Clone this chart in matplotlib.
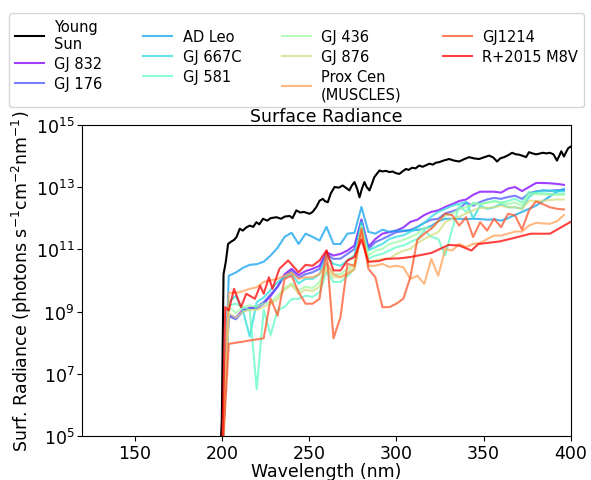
import numpy as np
import matplotlib
matplotlib.use("Agg")
import matplotlib.pyplot as plt
from matplotlib.ticker import NullLocator

# Young Sun spectrum (wavelength nm, log10 radiance)
sun_wl = [198, 200, 201, 202.3, 203.6, 205.5, 207, 208.4, 210.3, 212, 214, 216, 218, 219.8,
          221.5, 223.6, 226, 228, 231.3, 234, 236, 238.9, 240.5, 242.7, 245, 247, 250.3, 252,
          254.1, 256, 257.9, 259, 260.7, 262.5, 264.6, 267, 269.3, 271, 273.1, 274.5, 276,
          277.5, 278.9, 280.3, 281.7, 283, 284.6, 286, 287.4, 290.3, 292, 294, 296, 297.9,
          299.5, 301.7, 303.5, 305.5, 307, 309, 311, 313.1, 315, 317, 319, 321, 322.5, 324.6,
          327, 330.3, 333, 336, 339, 341.7, 344.5, 347.4, 350, 353.1, 355.5, 357.7, 359.5,
          361.7, 364, 366.3, 368.5, 370.3, 372.5, 374.3, 376, 378, 380, 381.7, 384, 386, 388,
          390, 391, 392, 393.3, 394.5, 396, 397.5, 398.5, 400]
sun_log = [3.0, 5.5, 10.2, 10.6, 11.17, 11.25, 11.3, 11.39, 11.66, 11.6, 11.7, 11.76, 11.72, 11.87,
           11.8, 11.98, 11.92, 12.0, 12.03, 11.98, 12.05, 12.07, 12.0, 12.25, 12.18, 12.2, 12.14, 12.2,
           12.35, 12.56, 12.62, 12.55, 12.51, 12.8, 13.0, 12.98, 13.05, 12.98, 12.89, 13.05, 13.16,
           12.95, 12.67, 12.95, 13.16, 13.0, 12.89, 13.1, 13.32, 13.53, 13.5, 13.52, 13.48, 13.5,
           13.45, 13.42, 13.5, 13.58, 13.55, 13.62, 13.6, 13.69, 13.65, 13.7, 13.75, 13.72, 13.78, 13.8,
           13.85, 13.9, 13.85, 13.82, 13.9, 13.96, 13.92, 13.9, 13.95, 14.01, 13.95, 13.82, 13.92,
           13.96, 14.02, 14.1, 14.05, 14.04, 14.0, 13.96, 14.12, 14.08, 14.05, 14.07, 14.1, 14.08, 14.1,
           14.05, 13.95, 13.85, 14.0, 14.15, 13.98, 14.15, 14.25, 14.3]

# MUSCLES stars, common grid
star_wl = [200, 204, 208, 212, 216, 220, 224, 228, 232, 236, 240, 244, 248, 252, 256, 260, 264,
           268, 272, 276, 280, 284, 288, 292, 296, 300, 304, 308, 312, 316, 320, 324, 328, 332,
           336, 340, 344, 348, 352, 356, 360, 364, 368, 372, 376, 380, 384, 388, 392, 396]
gj832 = [4.0, 8.9, 8.8, 9.05, 9.12, 9.1, 9.25, 9.5, 9.8, 10.2, 10.37, 10.17, 10.3, 10.37, 10.47,
         10.9, 10.8, 10.85, 10.96, 11.12, 11.96, 11.08, 11.33, 11.5, 11.55, 11.6, 11.7, 11.88, 11.95,
         12.1, 12.2, 12.25, 12.36, 12.45, 12.55, 12.6, 12.75, 12.85, 12.85, 12.85, 12.82, 12.95, 13.0,
         12.87, 13.0, 13.13, 13.13, 13.12, 13.1, 13.07]
gj176 = [4.0, 8.85, 8.75, 9.0, 9.1, 9.15, 9.3, 9.55, 9.8, 10.15, 10.3, 10.08, 10.2, 10.26, 10.37,
         10.85, 10.69, 10.7, 10.85, 11.01, 11.92, 11.01, 11.23, 11.33, 11.44, 11.55, 11.58, 11.62, 11.72,
         11.85, 11.95, 11.98, 12.15, 12.22, 12.3, 12.5, 12.4, 12.52, 12.6, 12.65, 12.62, 12.68, 12.72,
         12.62, 12.8, 12.86, 12.89, 12.88, 12.9, 12.9]
adleo = [4.0, 10.15, 10.25, 10.4, 10.5, 10.52, 10.6, 10.8, 11.05, 11.4, 11.53, 11.17, 11.5, 11.4, 11.28,
         11.72, 11.17, 11.17, 11.5, 11.53, 12.36, 11.56, 11.5, 11.63, 11.56, 11.6, 11.6, 11.6, 11.62,
         11.66, 11.75, 11.9, 11.98, 11.98, 11.98, 11.97, 11.98, 11.97, 11.95, 11.96, 11.92, 12.0, 12.1,
         12.2, 12.3, 12.4, 12.55, 12.7, 12.85, 12.94]
gj667c = [4.0, 9.3, 9.5, 9.05, 8.2, 9.3, 9.45, 9.7, 9.95, 10.1, 10.2, 9.9, 10.05, 10.05, 10.2, 10.8,
          10.53, 10.47, 10.64, 10.8, 11.88, 10.96, 11.07, 11.17, 11.33, 11.4, 11.45, 11.56, 11.7, 11.85,
          12.05, 12.2, 12.3, 12.4, 12.46, 12.52, 12.0, 12.4, 12.3, 12.35, 12.46, 12.35, 12.35, 12.3,
          12.68, 12.85, 12.89, 12.88, 12.87, 12.86]
gj581 = [4.0, 9.2, 9.25, 9.15, 9.05, 6.5, 9.05, 8.25, 9.05, 9.15, 9.4, 9.41, 9.51, 9.47, 9.62, 10.27,
         9.95, 9.95, 10.14, 10.37, 11.66, 10.69, 10.8, 10.85, 10.96, 11.07, 11.12, 11.23, 11.33, 11.6,
         11.4, 11.33, 10.8, 11.66, 12.4, 12.2, 12.5, 12.45, 12.5, 12.55, 12.5, 12.55, 12.62, 12.5,
         12.84, 12.8, 12.8, 12.78, 12.78, 12.78]
gj436 = [4.0, 9.15, 8.95, 9.15, 9.2, 9.15, 9.25, 9.3, 9.5, 9.75, 9.9, 9.67, 9.8, 9.75, 9.94, 10.53,
         10.2, 10.2, 10.37, 10.53, 11.76, 10.8, 10.96, 11.01, 11.17, 11.23, 11.3, 11.39, 11.5, 11.7,
         11.66, 11.9, 12.08, 12.14, 12.3, 12.35, 12.46, 12.45, 12.5, 12.53, 12.5, 12.45, 12.5, 12.4,
         12.78, 12.77, 12.76, 12.75, 12.75, 12.75]
gj876 = [4.0, 8.95, 8.8, 9.0, 9.05, 9.05, 9.15, 9.25, 9.4, 9.7, 9.85, 9.57, 9.7, 9.65, 9.8, 10.37,
         10.1, 10.1, 10.25, 10.43, 11.66, 10.58, 10.64, 10.69, 10.69, 10.85, 10.95, 11.01, 11.2, 11.33,
         11.45, 11.55, 11.87, 11.98, 12.05, 12.15, 12.25, 12.33, 12.33, 12.35, 12.4, 12.35, 12.35, 12.3,
         12.56, 12.55, 12.56, 12.58, 12.6, 12.6]
proxcen = [4.0, 9.6, 9.6, 9.65, 9.73, 9.78, 9.95, 10.0, 10.05, 10.15, 10.25, 10.05, 10.1, 10.1, 10.2,
           10.55, 10.2, 10.1, 10.2, 10.35, 11.55, 10.47, 10.47, 10.53, 10.43, 10.47, 10.42, 10.05, 10.15,
           9.89, 10.69, 10.15, 11.01, 10.96, 11.17, 11.07, 11.17, 11.2, 11.33, 11.44, 11.44, 11.5, 11.57,
           11.57, 11.76, 11.85, 11.83, 11.82, 11.9, 12.1]

gj1214_wl = [200, 204, 224, 228, 232, 236, 240, 244, 248, 252, 256, 260, 264, 268, 272, 276, 280,
             284, 288, 292, 296, 300, 304, 308, 312, 316, 320, 324, 328, 332, 336, 340, 344, 348,
             352, 356, 360, 364, 368, 372, 376, 380, 384, 388, 392, 396]
gj1214 = [4.0, 7.96, 8.14, 9.41, 8.87, 10.05, 10.15, 9.62, 9.25, 9.25, 9.41, 10.96, 8.14, 8.82, 10.53,
          10.47, 11.66, 10.37, 10.1, 9.14, 9.14, 9.25, 9.41, 10.1, 11.3, 11.5, 11.66, 11.9, 12.14, 12.1,
          11.76, 12.03, 11.39, 11.87, 11.6, 11.98, 11.71, 12.14, 12.09, 11.63, 12.25, 12.54, 12.45,
          12.35, 12.3, 12.28]

r15_wl = [200, 202, 204, 207, 211, 214, 219, 222, 224, 227, 229, 233, 238, 244, 248, 252, 256, 260,
          264, 268, 272, 276, 280, 284, 290, 294, 302, 308, 320, 330, 336, 343, 347, 359, 365, 377,
          388, 402]
r15 = [4.0, 9.14, 9.03, 9.73, 9.14, 9.57, 9.41, 9.83, 9.57, 10.1, 9.73, 10.37, 10.64, 10.26, 10.5,
       10.47, 10.64, 10.96, 10.32, 10.32, 10.64, 10.75, 11.31, 10.6, 10.62, 10.69, 10.71, 10.75, 10.88,
       11.14, 11.12, 10.96, 11.17, 11.25, 11.33, 11.5, 11.5, 11.95]

star_names = ['GJ 832', 'GJ 176', 'AD Leo', 'GJ 667C', 'GJ 581', 'GJ 436', 'GJ 876',
              'Prox Cen\n(MUSCLES)', 'GJ1214', 'R+2015 M8V']
star_wls = [star_wl] * 8 + [gj1214_wl, r15_wl]
star_logs = [gj832, gj176, adleo, gj667c, gj581, gj436, gj876, proxcen, gj1214, r15]

fig = plt.figure(figsize=(5.91, 4.81), dpi=100)
ax = fig.add_axes([0.139, 0.0915, 0.827, 0.647])

colors = plt.cm.rainbow(np.linspace(0, 1, len(star_names)))
lines = []
ln, = ax.plot(sun_wl, 10 ** np.array(sun_log), color='k', lw=1.5, label='Young\nSun')
lines.append(ln)
for wl, lg, name, c in zip(star_wls, star_logs, star_names, colors):
    ln, = ax.plot(wl, 10 ** np.array(lg), color=c, lw=1.5, alpha=0.75, label=name)
    lines.append(ln)

ax.set_yscale('log')
ax.set_xlim(120, 400)
ax.set_ylim(1e5, 1e15)
ax.set_yticks([1e5, 1e7, 1e9, 1e11, 1e13, 1e15])
ax.yaxis.set_minor_locator(NullLocator())
ax.tick_params(labelsize=12.5, pad=2)
ax.set_xlabel('Wavelength (nm)', fontsize=12.5, labelpad=0)
ax.set_ylabel(r'Surf. Radiance (photons s$^{-1}$cm$^{-2}$nm$^{-1}$)', fontsize=12.5, labelpad=1)
ax.set_title('Surface Radiance', fontsize=12.5, pad=3)

fig.legend(handles=lines, loc='upper left', bbox_to_anchor=(0.015, 0.971), ncol=4,
           fontsize=10.5, borderaxespad=0, labelspacing=0.35, columnspacing=2.8,
           handletextpad=0.7)

fig.savefig('out.png', dpi=100)
